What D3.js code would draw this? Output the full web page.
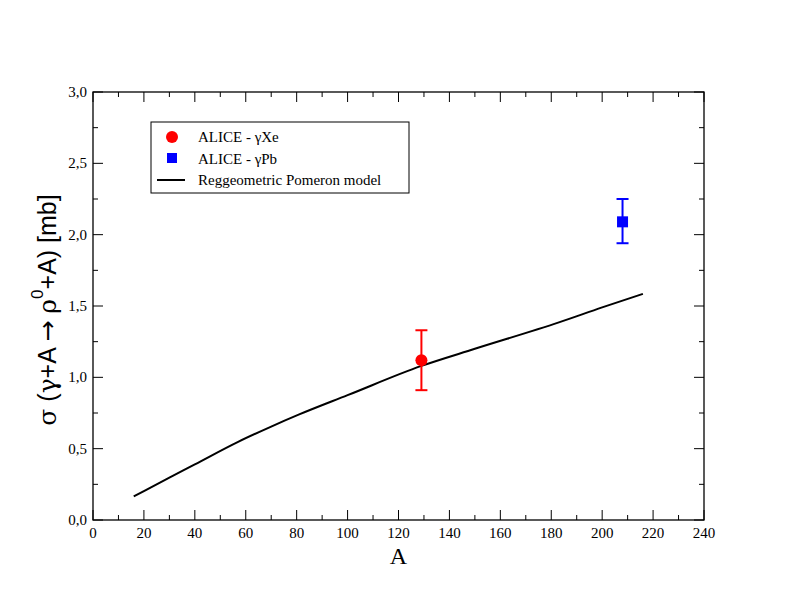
<!DOCTYPE html>
<html>
<head>
<meta charset="utf-8">
<script src="https://cdn.jsdelivr.net/npm/d3@7"></script>
<style>
body{margin:0;background:#fff;}
svg text{font-family:"Liberation Serif","Times New Roman",serif;}
</style>
</head>
<body>
<svg width="792" height="612"></svg>
<script>
// model curve (Reggeometric Pomeron)
var modelA=[16,20,30,40,57,70,81,100,129,150,183,200,216];
var modelSigma=[0.165,0.203,0.297,0.39,0.548,0.655,0.74,0.875,1.08,1.2,1.385,1.49,1.585];
// ALICE points
var pointNames=["ALICE - \u03b3Xe","ALICE - \u03b3Pb"];
var pointA=[129,208];
var pointSigma=[1.12,2.09];
var pointLo=[0.91,1.94];
var pointHi=[1.33,2.25];
var pointColors=["#ff0000","#0000ff"];
var xTicks=d3.range(0,241,20);
var yTicks=[0,0.5,1,1.5,2,2.5,3];

var svg=d3.select("svg"),
    margin={top:92,right:88,bottom:92,left:93},
    width=+svg.attr("width")-margin.left-margin.right,
    height=+svg.attr("height")-margin.top-margin.bottom;
var g=svg.append("g").attr("transform","translate("+margin.left+","+margin.top+")");

var x=d3.scaleLinear().domain([0,240]).range([0,width]);
var y=d3.scaleLinear().domain([0,3]).range([height,0]);
var fmt=function(d){return d3.format(".1f")(d).replace(".",",");};

//刻度 (inward, on all four sides)
var minorX=d3.range(10,240,20), minorY=d3.range(0.25,3,0.5);
function ticks(sel,vals,len,axis){
  vals.forEach(function(v){
    if(axis=="x"){
      sel.append("line").attr("x1",x(v)).attr("x2",x(v)).attr("y1",height).attr("y2",height-len);
      sel.append("line").attr("x1",x(v)).attr("x2",x(v)).attr("y1",0).attr("y2",len);
    }else{
      sel.append("line").attr("y1",y(v)).attr("y2",y(v)).attr("x1",0).attr("x2",len);
      sel.append("line").attr("y1",y(v)).attr("y2",y(v)).attr("x1",width).attr("x2",width-len);
    }
  });
}
var tg=g.append("g").attr("stroke","#000").attr("stroke-width",1);
ticks(tg,xTicks,10,"x");ticks(tg,minorX,5,"x");
ticks(tg,yTicks,10,"y");ticks(tg,minorY,5,"y");

g.append("rect").attr("width",width).attr("height",height)
  .attr("fill","none").attr("stroke","#000").attr("stroke-width",1.3);

g.selectAll(".xl").data(xTicks).enter().append("text")
  .attr("x",function(d){return x(d);}).attr("y",height+18)
  .attr("text-anchor","middle").attr("font-size",15).text(function(d){return d;});
g.selectAll(".yl").data(yTicks).enter().append("text")
  .attr("x",-6).attr("y",function(d){return y(d)+5;})
  .attr("text-anchor","end").attr("font-size",15).text(fmt);

//轴标题
g.append("text").attr("x",width/2).attr("y",height+44).attr("text-anchor","middle")
  .attr("font-size",24).text("A");
var yt=svg.append("text").attr("transform","translate(56,310) rotate(-90)")
  .attr("text-anchor","middle").attr("font-size",25)
  .style("font-family","'Liberation Sans',Arial,sans-serif");
var greek="'DejaVu Serif',serif";
yt.append("tspan").style("font-family",greek).text("\u03c3");
yt.append("tspan").text(" (");
yt.append("tspan").style("font-family",greek).text("\u03b3");
yt.append("tspan").text("+A ");
yt.append("tspan").style("font-family","'DejaVu Sans',sans-serif").text("\u2192");
yt.append("tspan").text(" ");
yt.append("tspan").style("font-family",greek).text("\u03c1");
yt.append("tspan").attr("dy",-13).attr("font-size",17).text("0");
yt.append("tspan").attr("dy",13).text("+A) [mb]");

//模型曲线
var line=d3.line().x(function(d,i){return x(modelA[i]);}).y(function(d){return y(d);}).curve(d3.curveMonotoneX);
g.append("path").datum(modelSigma).attr("fill","none").attr("stroke","#000")
  .attr("stroke-width",2).attr("d",line);

//误差棒
pointA.forEach(function(a,i){
  var c=pointColors[i], px=x(a);
  g.append("line").attr("x1",px).attr("x2",px).attr("y1",y(pointLo[i])).attr("y2",y(pointHi[i]))
    .attr("stroke",c).attr("stroke-width",2);
  [pointLo[i],pointHi[i]].forEach(function(v){
    g.append("line").attr("x1",px-6).attr("x2",px+6).attr("y1",y(v)).attr("y2",y(v))
      .attr("stroke",c).attr("stroke-width",2);
  });
});
g.append("circle").attr("cx",x(pointA[0])).attr("cy",y(pointSigma[0])).attr("r",6).attr("fill",pointColors[0]);
g.append("rect").attr("x",x(pointA[1])-5.5).attr("y",y(pointSigma[1])-5.5)
  .attr("width",11).attr("height",11).attr("fill",pointColors[1]);

//图例
var lg=svg.append("g").attr("transform","translate(151,122)");
lg.append("rect").attr("width",258).attr("height",71).attr("fill","#fff").attr("stroke","#000").attr("stroke-width",1);
lg.append("circle").attr("cx",21).attr("cy",15).attr("r",6).attr("fill",pointColors[0]);
lg.append("rect").attr("x",16).attr("y",31).attr("width",10).attr("height",10).attr("fill",pointColors[1]);
lg.append("line").attr("x1",6).attr("x2",34).attr("y1",58).attr("y2",58).attr("stroke","#000").attr("stroke-width",2);
var labels=pointNames.concat(["Reggeometric Pomeron model"]);
lg.selectAll(".lt").data(labels).enter().append("text")
  .attr("x",47).attr("y",function(d,i){return 20+i*21.5;})
  .attr("font-size",15).text(function(d){return d;});
</script>
</body>
</html>
